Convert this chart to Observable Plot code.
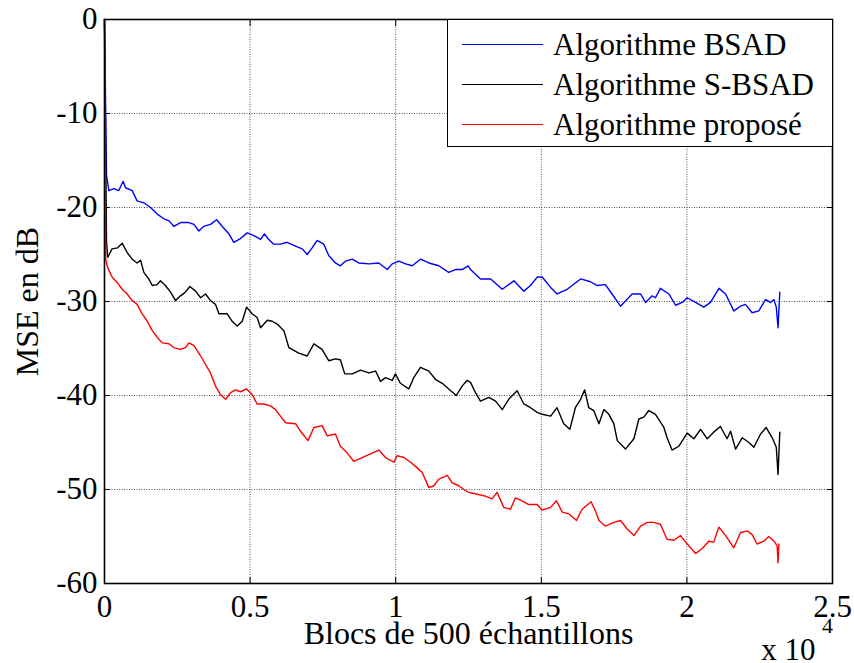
<!DOCTYPE html>
<html>
<head>
<meta charset="utf-8">
<script src="https://cdn.jsdelivr.net/npm/d3@7"></script>
<script src="https://cdn.jsdelivr.net/npm/@observablehq/plot@0.6"></script>
<style>
  body { margin: 0; background: #fff; }
  #fig { position: relative; width: 854px; height: 663px; font-family: "Liberation Serif", "Times New Roman", Times, "Tinos", "DejaVu Serif", "Noto Serif", serif; }
  #fig svg { display: block; }
  .legend { position: absolute; left: 447px; top: 19px; width: 384px; height: 126px; border: 1.5px solid #000; background: #fff; }
  .legend .item { position: absolute; left: 0; height: 40px; display: flex; align-items: center; }
  .legend .swatch { margin-left: 14px; width: 81px; height: 0; border-top: 1.2px solid; }
  .legend .name { margin-left: 10px; font-size: 31px; line-height: 1; color: #000; white-space: nowrap; }
</style>
</head>
<body>
<div id="fig"></div>
<script>
// MSE (dB) versus number of blocks of 500 samples (x in units of 10^4 blocks)
const xTicks = [0, 0.5, 1, 1.5, 2, 2.5];
const xTickLabels = ["0", "0.5", "1", "1.5", "2", "2.5"];
const yTicks = [-60, -50, -40, -30, -20, -10, 0];

const seriesNames = ["Algorithme BSAD", "Algorithme S-BSAD", "Algorithme proposé"];
const seriesColors = ["#0000ff", "#000000", "#ff0000"];

const xLabel = "Blocs de 500 échantillons";
const yLabel = "MSE en dB";
const xExponentBase = "x 10";
const xExponent = "4";

const serifStack = "'Liberation Serif', 'Times New Roman', Times, Tinos, 'DejaVu Serif', 'Noto Serif', serif";

// [blocks ×10^4, MSE dB]
const bsad = [
  [0, 0], [0.007, -16.6], [0.015, -18.2], [0.032, -18.0], [0.049, -18.2], [0.064, -17.2], [0.072, -17.9],
  [0.095, -18.2], [0.112, -19.3], [0.135, -19.5], [0.158, -20.0], [0.181, -20.7], [0.204, -21.2],
  [0.221, -21.4], [0.238, -22.0], [0.261, -21.6], [0.290, -21.6], [0.307, -21.8], [0.324, -22.5],
  [0.341, -22.0], [0.364, -21.8], [0.385, -21.3], [0.404, -22.0], [0.427, -22.8], [0.444, -23.7],
  [0.467, -23.3], [0.490, -22.7], [0.513, -23.0], [0.536, -23.4], [0.549, -22.8], [0.564, -23.4],
  [0.581, -23.9], [0.604, -23.9], [0.627, -23.7], [0.656, -24.1], [0.679, -24.4], [0.696, -25.0],
  [0.713, -24.3], [0.730, -23.5], [0.753, -23.9], [0.770, -25.1], [0.793, -25.9], [0.810, -26.2],
  [0.828, -25.7], [0.851, -25.5], [0.873, -25.9], [0.908, -26.0], [0.942, -25.9], [0.971, -26.6],
  [0.988, -26.0], [1.011, -25.7], [1.034, -26.0], [1.057, -26.2], [1.085, -25.5], [1.114, -25.9],
  [1.148, -26.2], [1.182, -26.9], [1.205, -26.6], [1.228, -26.6], [1.249, -26.2], [1.257, -26.6],
  [1.291, -27.6], [1.326, -27.6], [1.366, -28.7], [1.406, -27.8], [1.440, -28.9], [1.463, -28.3],
  [1.486, -27.4], [1.503, -27.4], [1.532, -28.5], [1.554, -29.2], [1.589, -28.7], [1.635, -27.6],
  [1.669, -27.9], [1.692, -28.3], [1.720, -28.2], [1.743, -29.2], [1.772, -30.5], [1.812, -29.2],
  [1.841, -29.2], [1.858, -30.1], [1.881, -29.4], [1.892, -29.6], [1.909, -28.6], [1.938, -29.2],
  [1.961, -30.4], [1.984, -30.1], [2.001, -29.6], [2.030, -30.1], [2.058, -30.6], [2.081, -30.1],
  [2.110, -28.6], [2.133, -29.2], [2.161, -31.0], [2.184, -30.5], [2.201, -30.3], [2.224, -31.2],
  [2.247, -31.0], [2.270, -29.8], [2.287, -30.1], [2.299, -29.8], [2.307, -30.6], [2.313, -32.8],
  [2.319, -29.0]
];

const sbsad = [
  [0, 0], [0.007, -23.7], [0.011, -25.3], [0.026, -24.4], [0.044, -24.3], [0.061, -23.8], [0.078, -24.8],
  [0.095, -25.5], [0.112, -25.9], [0.124, -25.6], [0.135, -26.9], [0.152, -27.6], [0.164, -28.3],
  [0.181, -28.2], [0.192, -27.8], [0.209, -28.3], [0.227, -29.0], [0.244, -29.9], [0.261, -29.4],
  [0.278, -29.0], [0.293, -28.4], [0.313, -28.9], [0.330, -29.6], [0.347, -29.2], [0.364, -29.9],
  [0.381, -30.3], [0.393, -31.3], [0.421, -31.3], [0.438, -32.1], [0.456, -32.6], [0.473, -32.1],
  [0.488, -30.6], [0.507, -31.3], [0.524, -31.7], [0.536, -32.8], [0.559, -32.0], [0.576, -32.1],
  [0.593, -32.4], [0.616, -33.1], [0.633, -34.9], [0.644, -35.1], [0.667, -35.5], [0.696, -35.8],
  [0.719, -34.5], [0.747, -35.1], [0.770, -36.3], [0.793, -36.1], [0.810, -36.2], [0.825, -37.7],
  [0.851, -37.7], [0.879, -37.3], [0.908, -37.6], [0.931, -37.4], [0.948, -38.5], [0.965, -38.1],
  [0.988, -38.4], [0.999, -37.7], [1.016, -38.7], [1.045, -39.3], [1.062, -38.1], [1.085, -37.0],
  [1.114, -37.4], [1.137, -38.3], [1.160, -38.7], [1.182, -39.3], [1.208, -40.0], [1.228, -39.0],
  [1.245, -38.4], [1.257, -38.6], [1.274, -39.7], [1.291, -40.6], [1.320, -40.2], [1.343, -40.6],
  [1.366, -41.5], [1.388, -40.4], [1.417, -39.5], [1.440, -40.9], [1.463, -41.3], [1.486, -41.8],
  [1.503, -42.0], [1.532, -42.2], [1.554, -41.3], [1.577, -43.0], [1.598, -43.6], [1.617, -41.3],
  [1.635, -40.4], [1.649, -39.4], [1.663, -41.3], [1.680, -41.6], [1.698, -43.0], [1.715, -41.5],
  [1.732, -42.0], [1.749, -43.0], [1.761, -44.8], [1.789, -45.7], [1.818, -44.6], [1.835, -42.5],
  [1.852, -42.3], [1.869, -41.6], [1.892, -42.0], [1.921, -43.4], [1.932, -44.5], [1.949, -45.8],
  [1.972, -45.4], [2.001, -44.0], [2.024, -44.6], [2.047, -43.6], [2.070, -44.6], [2.092, -43.9],
  [2.115, -43.3], [2.138, -44.6], [2.150, -43.8], [2.167, -45.7], [2.190, -44.5], [2.213, -45.0],
  [2.230, -45.5], [2.253, -44.1], [2.272, -43.4], [2.293, -44.5], [2.307, -45.5], [2.313, -48.4],
  [2.319, -43.9]
];

const propose = [
  [0, 0], [0.004, -25.5], [0.011, -26.4], [0.026, -27.4], [0.044, -28.0], [0.061, -28.7], [0.078, -29.2],
  [0.095, -29.9], [0.112, -30.3], [0.129, -31.3], [0.147, -32.1], [0.164, -33.1], [0.181, -33.8],
  [0.198, -34.4], [0.221, -34.5], [0.238, -34.9], [0.261, -35.1], [0.278, -34.9], [0.290, -34.4],
  [0.307, -34.7], [0.318, -35.2], [0.330, -35.8], [0.347, -36.7], [0.364, -37.6], [0.381, -39.0],
  [0.398, -39.9], [0.416, -40.4], [0.433, -39.7], [0.450, -39.4], [0.467, -39.6], [0.488, -39.3],
  [0.507, -39.9], [0.524, -40.9], [0.547, -40.9], [0.570, -41.1], [0.587, -41.5], [0.604, -42.2],
  [0.622, -42.9], [0.656, -43.0], [0.673, -43.8], [0.699, -44.8], [0.719, -43.4], [0.747, -43.2],
  [0.765, -44.3], [0.793, -44.1], [0.810, -45.4], [0.833, -46.1], [0.856, -47.0], [0.885, -46.6],
  [0.913, -46.2], [0.942, -45.8], [0.965, -46.6], [0.994, -47.1], [1.005, -46.4], [1.028, -46.6],
  [1.051, -47.1], [1.074, -47.7], [1.091, -48.2], [1.114, -49.8], [1.131, -49.6], [1.148, -48.9],
  [1.177, -48.5], [1.194, -49.3], [1.217, -49.6], [1.234, -50.0], [1.251, -50.3], [1.280, -50.5],
  [1.308, -50.7], [1.331, -51.0], [1.348, -50.3], [1.371, -51.9], [1.394, -52.1], [1.411, -50.9],
  [1.434, -51.2], [1.457, -51.6], [1.486, -51.6], [1.503, -52.2], [1.532, -51.9], [1.552, -51.2],
  [1.572, -52.4], [1.595, -52.6], [1.621, -53.3], [1.640, -52.1], [1.671, -51.3], [1.686, -52.3],
  [1.698, -53.3], [1.720, -53.9], [1.749, -53.5], [1.772, -53.3], [1.795, -54.2], [1.818, -54.9],
  [1.841, -53.9], [1.864, -53.5], [1.886, -53.5], [1.909, -53.7], [1.932, -55.3], [1.955, -55.4],
  [1.978, -54.9], [2.001, -55.8], [2.030, -56.8], [2.052, -56.3], [2.075, -55.5], [2.092, -55.6],
  [2.110, -54.0], [2.133, -54.9], [2.161, -56.2], [2.184, -54.6], [2.207, -54.4], [2.224, -54.8],
  [2.241, -55.8], [2.264, -55.5], [2.281, -55.0], [2.299, -55.5], [2.310, -56.0], [2.313, -57.8],
  [2.316, -55.8]
];

const seriesData = [bsad, sbsad, propose];

const gridStyle = {stroke: "#555", strokeOpacity: 1, strokeWidth: 1, strokeDasharray: "1,1.5"};
const inwardTick = {tickSize: -6, fill: "none", label: null, stroke: "#000"};

const chart = Plot.plot({
  width: 854,
  height: 663,
  marginLeft: 104,
  marginRight: 22,
  marginTop: 19,
  marginBottom: 80,
  style: {fontFamily: serifStack, fontSize: "31px", color: "#000", background: "#fff", overflow: "visible"},
  x: {domain: [0, 2.5]},
  y: {domain: [-60, 0]},
  marks: [
    Plot.gridX(xTicks, gridStyle),
    Plot.gridY(yTicks, gridStyle),
    Plot.axisX(xTicks, {anchor: "bottom", tickSize: 0, tickPadding: 11, label: null, tickFormat: d => xTickLabels[xTicks.indexOf(d)]}),
    Plot.axisY(yTicks, {anchor: "left", tickSize: 0, tickPadding: 7, label: null, tickFormat: d => String(d)}),
    Plot.axisX(xTicks, {anchor: "bottom", ...inwardTick}),
    Plot.axisX(xTicks, {anchor: "top", ...inwardTick}),
    Plot.axisY(yTicks, {anchor: "left", ...inwardTick}),
    Plot.axisY(yTicks, {anchor: "right", ...inwardTick}),
    ...seriesData.map((data, i) =>
      Plot.line(data, {x: d => d[0], y: d => d[1], stroke: seriesColors[i], strokeWidth: 1.4, strokeLinejoin: "round"})
    ),
    Plot.frame({stroke: "#000", strokeWidth: 1.6}),
    Plot.text([xLabel], {frameAnchor: "bottom", lineAnchor: "middle", textAnchor: "middle", dy: 50, fontSize: 32}),
    Plot.text([yLabel], {frameAnchor: "left", lineAnchor: "middle", textAnchor: "middle", rotate: -90, dx: -77, fontSize: 32}),
    Plot.text([xExponentBase], {frameAnchor: "bottom-right", lineAnchor: "middle", textAnchor: "end", dx: -17, dy: 67, fontSize: 31}),
    Plot.text([xExponent], {frameAnchor: "bottom-right", lineAnchor: "middle", textAnchor: "middle", dx: -5, dy: 42, fontSize: 22})
  ]
});

const fig = document.getElementById("fig");
fig.appendChild(chart);

// legend box in the upper right corner of the axes
const legend = document.createElement("div");
legend.className = "legend";
seriesNames.forEach((name, i) => {
  const item = document.createElement("div");
  item.className = "item";
  item.style.top = (4 + 40 * i) + "px";
  const sw = document.createElement("div");
  sw.className = "swatch";
  sw.style.borderTopColor = seriesColors[i];
  const label = document.createElement("span");
  label.className = "name";
  label.textContent = name;
  item.appendChild(sw);
  item.appendChild(label);
  legend.appendChild(item);
});
fig.appendChild(legend);
</script>
</body>
</html>
